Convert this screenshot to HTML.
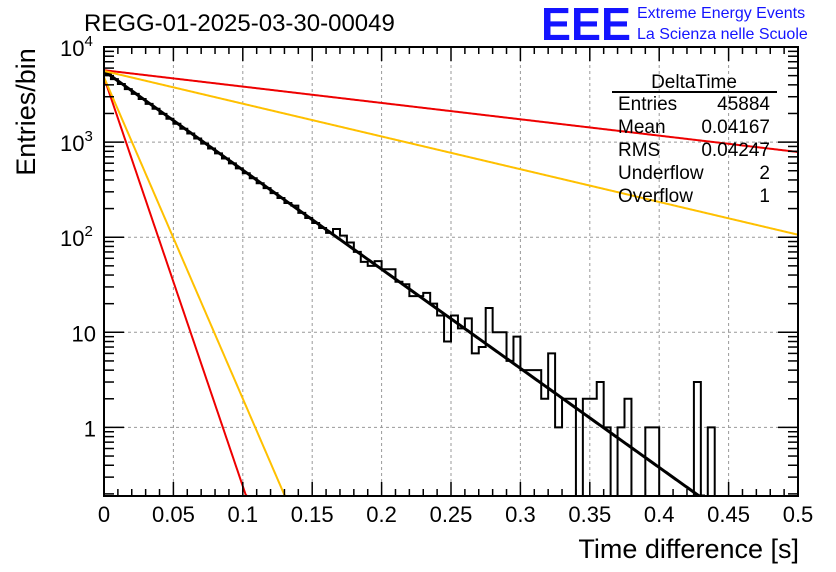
<!DOCTYPE html>
<html><head><meta charset="utf-8"><style>
body{margin:0;background:#fff;width:836px;height:572px;overflow:hidden}
svg{display:block;font-family:"Liberation Sans",sans-serif}
</style></head><body>
<svg id="c" width="836" height="572" xmlns="http://www.w3.org/2000/svg">
<text x="84" y="31" font-size="24">REGG-01-2025-03-30-00049</text>
<text x="541" y="40" font-size="46" fill="#1414ff" font-weight="bold" textLength="90" lengthAdjust="spacingAndGlyphs">EEE</text>
<text x="637" y="18" font-size="16" fill="#1414ff">Extreme Energy Events</text>
<text x="637" y="39" font-size="16" fill="#1414ff">La Scienza nelle Scuole</text>
<g id="grid"></g><g id="plot"></g><g id="axes"></g>
<g font-size="19">
<text x="694" y="88" text-anchor="middle">DeltaTime</text>
<line x1="612" y1="92" x2="777" y2="92" stroke="#000" stroke-width="2"/>
<text x="618" y="110">Entries</text><text x="770" y="110" text-anchor="end">45884</text>
<text x="618" y="133">Mean</text><text x="770" y="133" text-anchor="end">0.04167</text>
<text x="618" y="156">RMS</text><text x="770" y="156" text-anchor="end">0.04247</text>
<text x="618" y="179">Underflow</text><text x="770" y="179" text-anchor="end">2</text>
<text x="618" y="202">Overflow</text><text x="770" y="202" text-anchor="end">1</text>
</g>
<text x="799" y="558" font-size="27" text-anchor="end">Time difference [s]</text>
<text transform="translate(35,112) rotate(-90)" font-size="27" text-anchor="middle">Entries/bin</text>
</svg>
<script>
const binWidth = 0.005;
const counts = [5180,4590,4080,3610,3210,2840,2520,2240,1980,1760,1560,1380,1230,1090,965,856,760,673,597,530,470,417,369,328,291,258,229,215,180,159,141,125,111,122,104,88,70,55,50,56,46,46,34,32,24,24,26,20,15,8,15,11,14,6,7,18,10,10,5,9,4,4,4,2,6,1,2,2,0,2,2,3,1,0,1,2,0,0,1,1,0,0,0,0,0,3,0,1,0,0,0,0,0,0,0,0,0,0,0,0];
const fitAmps = [5600,5700,5600,4800,4800];
const fitSlopes = [24,3.96,7.93,99,77.8];
const fitColors = ['#000','#ee0000','#ffc000','#ee0000','#ffc000'];
const xTicks = [0,0.05,0.1,0.15,0.2,0.25,0.3,0.35,0.4,0.45,0.5];
const xTickLabels = ['0','0.05','0.1','0.15','0.2','0.25','0.3','0.35','0.4','0.45','0.5'];
const yTicks = [10000,1000,100,10,1];

const L=104,R=798,T=47,B=496,yMin=0.19,yMax=10000;
const sx=v=>L+(R-L)*v/0.5;
const sy=v=>{const lv=Math.log10(Math.max(v,yMin));return B-(B-T)*(lv-Math.log10(yMin))/(Math.log10(yMax)-Math.log10(yMin));};
const NS='http://www.w3.org/2000/svg';
function mk(tag,attrs,parent){const e=document.createElementNS(NS,tag);for(const k in attrs)e.setAttribute(k,attrs[k]);parent.appendChild(e);return e;}
const grid=document.getElementById('grid'),plot=document.getElementById('plot'),axes=document.getElementById('axes');
const defs=mk('defs',{},plot);const cp=mk('clipPath',{id:'clip'},defs);mk('rect',{x:L,y:T,width:R-L,height:B-T},cp);
const gClip=mk('g',{'clip-path':'url(#clip)'},plot);
xTicks.forEach(v=>{if(v>0&&v<0.5){const g=mk('line',{x1:sx(v),x2:sx(v),y1:T,y2:B,stroke:'#999','stroke-dasharray':'3,3'},grid);

}});
yTicks.forEach(v=>{if(v<yMax){const g=mk('line',{x1:L,x2:R,y1:sy(v),y2:sy(v),stroke:'#999','stroke-dasharray':'3,3'},grid);

}});
let d='M'+L+','+B;
counts.forEach((c,i)=>{const y=c>0?sy(c):B+5;d+=' L'+sx(i*binWidth)+','+y+' L'+sx((i+1)*binWidth)+','+y;});
const h=mk('path',{d:d,fill:'none',stroke:'#000','stroke-width':2},gClip);


fitAmps.forEach((a,k)=>{let p='';for(let i=0;i<=500;i++){const x=i*0.001;const v=a*Math.exp(-fitSlopes[k]*x);if(v<yMin*0.9)break;p+=(p?' L':'M')+sx(x)+','+sy(v);}
const f=mk('path',{d:p,fill:'none',stroke:fitColors[k],'stroke-width':k==0?3:2},gClip);

});
const fr=mk('rect',{x:L,y:T,width:R-L,height:B-T,fill:'none',stroke:'#000','stroke-width':2},axes);


for(let i=0;i<=50;i++){const v=i*0.01,x=sx(v),len=i%5==0?14:7;
mk('line',{x1:x,x2:x,y1:B,y2:B-len,stroke:'#000','stroke-width':1.5},axes);
mk('line',{x1:x,x2:x,y1:T,y2:T+len,stroke:'#000','stroke-width':1.5},axes);}
xTicks.forEach((v,i)=>{const t=mk('text',{x:sx(v),y:522,'font-size':22,'text-anchor':'middle'},axes);t.textContent=xTickLabels[i];

});
for(let e=-1;e<=3;e++)for(let m=1;m<=9;m++){const v=m*Math.pow(10,e);if(v<yMin||v>yMax)continue;const y=sy(v),len=m==1?20:10;
mk('line',{x1:L,x2:L+len,y1:y,y2:y,stroke:'#000','stroke-width':1.5},axes);
mk('line',{x1:R,x2:R-len,y1:y,y2:y,stroke:'#000','stroke-width':1.5},axes);}
yTicks.forEach(v=>{const y=sy(v);let t;
if(v>=100){t=mk('text',{x:84,y:y+9,'font-size':22,'text-anchor':'end'},axes);t.textContent='10';
const s=mk('tspan',{dy:-10,'font-size':15},t);s.textContent=String(Math.round(Math.log10(v)));t.setAttribute('x',83);t.setAttribute('text-anchor','start');t.setAttribute('x',60);}
else{t=mk('text',{x:96,y:y+9,'font-size':22,'text-anchor':'end'},axes);t.textContent=String(v);}

});
</script>
</body></html>
